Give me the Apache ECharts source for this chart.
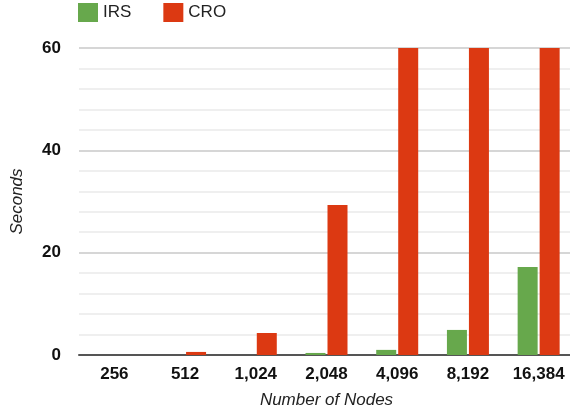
<!DOCTYPE html>
<html><head><meta charset="utf-8">
<script src="https://cdn.jsdelivr.net/npm/echarts@6/dist/echarts.min.js"></script>
<style>html,body{margin:0;padding:0;background:#fff}#c{width:570px;height:413px}</style>
</head><body><div id="c"></div>
<script>
const categories = ['256', '512', '1,024', '2,048', '4,096', '8,192', '16,384'];
const irsValues = [0, 0, 0, 0.4, 1.0, 4.9, 17.2];
const croValues = [0, 0.6, 4.3, 29.3, 60, 60, 60];
const yTicks = [0, 20, 40, 60];

const chart = echarts.init(document.getElementById('c'));
chart.setOption({
  animation: false,
  legend: {
    left: 73, top: -2, itemWidth: 20, itemHeight: 19, itemGap: 32, icon: 'rect',
    textStyle: { fontFamily: 'Liberation Sans', fontSize: 17, color: '#222' },
    data: ['IRS', 'CRO']
  },
  grid: { left: 79, right: -4, top: 48, bottom: 58, containLabel: false, outerBoundsMode: 'none' },
  xAxis: {
    type: 'category', data: categories,
    name: 'Number of Nodes', nameLocation: 'middle', nameGap: 37,
    nameTextStyle: { fontFamily: 'Liberation Sans', fontSize: 17, fontStyle: 'italic', color: '#222' },
    axisLine: { lineStyle: { color: '#555', width: 2 } },
    axisTick: { show: false },
    axisLabel: { fontFamily: 'Liberation Sans', fontSize: 17, fontWeight: 'bold', color: '#111', margin: 11 }
  },
  yAxis: {
    type: 'value', min: yTicks[0], max: yTicks[yTicks.length - 1], interval: 20,
    name: 'Seconds', nameLocation: 'middle', nameGap: 53, nameRotate: 90,
    nameTextStyle: { fontFamily: 'Liberation Sans', fontSize: 17, fontStyle: 'italic', color: '#222' },
    axisLine: { show: false }, axisTick: { show: false },
    axisLabel: { fontFamily: 'Liberation Sans', fontSize: 17, fontWeight: 'bold', color: '#111', margin: 18 },
    splitLine: { lineStyle: { color: '#d6d6d6', width: 2 } },
    minorTick: { show: false, splitNumber: 5 },
    minorSplitLine: { show: true, lineStyle: { color: '#efefef', width: 2 } }
  },
  series: [
    { name: 'IRS', type: 'bar', data: irsValues, barWidth: 20, barGap: '10%',
      itemStyle: { color: '#67a84c' } },
    { name: 'CRO', type: 'bar', data: croValues, barWidth: 20,
      itemStyle: { color: '#dc3912' } }
  ]
});
</script></body></html>
